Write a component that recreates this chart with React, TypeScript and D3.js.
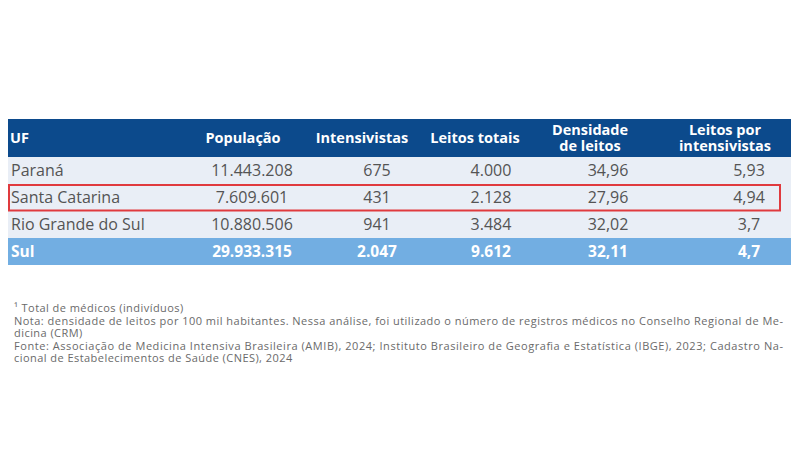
import React from "react";
import * as d3 from "d3";

const states = ["Paraná", "Santa Catarina", "Rio Grande do Sul", "Sul"];
const populacao = [11443208, 7609601, 10880506, 29933315];
const intensivistas = [675, 431, 941, 2047];
const leitosTotais = [4000, 2128, 3484, 9612];
const densidade = [34.96, 27.96, 32.02, 32.11];
const leitosPorIntensivista = [5.93, 4.94, 3.7, 4.7];
const headers = [["UF"], ["População"], ["Intensivistas"], ["Leitos totais"], ["Densidade", "de leitos"], ["Leitos por", "intensivistas"]];
const highlighted = "Santa Catarina";
const totalRow = "Sul";
const footnotes = [
  "¹ Total de médicos (indivíduos)",
  "Nota: densidade de leitos por 100 mil habitantes. Nessa análise, foi utilizado o número de registros médicos no Conselho Regional de Me-",
  "dicina (CRM)",
  "Fonte: Associação de Medicina Intensiva Brasileira (AMIB), 2024; Instituto Brasileiro de Geografia e Estatística (IBGE), 2023; Cadastro Na-",
  "cional de Estabelecimentos de Saúde (CNES), 2024",
];
const justified = [false, true, false, true, false];

const locale = d3.formatLocale({ decimal: ",", thousands: ".", grouping: [3], currency: ["R$", ""] });
const fmtInt = locale.format(",d");
const fmt2 = locale.format(",.2f");
const fmtDec = (v: number) => String(v).replace(".", ",");

const W = 800, H = 467;
const tableLeft = 8, tableRight = 791;
const headerTop = 119, headerBottom = 157, tableBottom = 265;
const headerCenters = [10, 243, 362, 475, 590, 725];
const valueCenters = [13, 252, 377, 491, 608, 749];

const HEADER_BG = "#0c4a8c";
const ROW_BG = "#e9eef6";
const TOTAL_BG = "#72aee2";
const TEXT = "#545454";
const FONT = "'Open Sans', sans-serif";

export default function App() {
  const y = d3.scaleBand<string>().domain(states).range([headerBottom, tableBottom]).padding(0);
  const noteY = d3.scaleLinear().domain([0, footnotes.length - 1]).range([312, 362]);
  const columns: string[][] = states.map((s, i) => [
    s,
    fmtInt(populacao[i]),
    fmtInt(intensivistas[i]),
    fmtInt(leitosTotais[i]),
    fmt2(densidade[i]),
    fmtDec(leitosPorIntensivista[i]),
  ]);
  const bw = y.bandwidth();
  return (
    <svg width={W} height={H} style={{ position: "absolute", left: 0, top: 0, background: "#fff" }} fontFamily={FONT}>
      <rect x={0} y={0} width={W} height={H} fill="#fff" />
      <rect x={tableLeft} y={headerTop} width={tableRight - tableLeft} height={headerBottom - headerTop} fill={HEADER_BG} />
      {headers.map((lines, ci) => {
        const cy = (headerTop + headerBottom) / 2;
        const n = lines.length;
        return (
          <text key={ci} fill="#fff" fontWeight={700} fontSize={14.5} textAnchor={ci === 0 ? "start" : "middle"}>
            {lines.map((l, li) => (
              <tspan key={li} x={headerCenters[ci]} y={cy + 5 + (li - (n - 1) / 2) * 16.5}>{l}</tspan>
            ))}
          </text>
        );
      })}
      {states.map((s, ri) => {
        const isTotal = s === totalRow;
        const top = y(s)!;
        return (
          <g key={s}>
            <rect x={tableLeft} y={top} width={tableRight - tableLeft} height={bw} fill={isTotal ? TOTAL_BG : ROW_BG} />
            {columns[ri].map((v, ci) => (
              <text
                key={ci}
                x={ci === 0 ? 11 : valueCenters[ci]}
                y={top + bw / 2 + 5.5}
                fontSize={isTotal ? 15.5 : 16}
                fontWeight={isTotal ? 700 : 400}
                fill={isTotal ? "#fff" : TEXT}
                textAnchor={ci === 0 ? "start" : "middle"}
              >
                {v}
              </text>
            ))}
          </g>
        );
      })}
      {states.filter((s) => s === highlighted).map((s) => (
        <rect key={s} x={tableLeft + 1} y={y(s)! + 1} width={780 - tableLeft - 1} height={bw - 1.5} fill="none" stroke="#e03a3e" strokeWidth={2} />
      ))}
      {footnotes.map((t, i) => (
        <text
          key={i}
          x={14}
          y={noteY(i)}
          fontSize={11}
          fill="#6a6a6a"
          letterSpacing={justified[i] ? 0 : 0.45}
          {...(justified[i] ? { textLength: 769, lengthAdjust: "spacing" } : {})}
        >
          {t}
        </text>
      ))}
    </svg>
  );
}
